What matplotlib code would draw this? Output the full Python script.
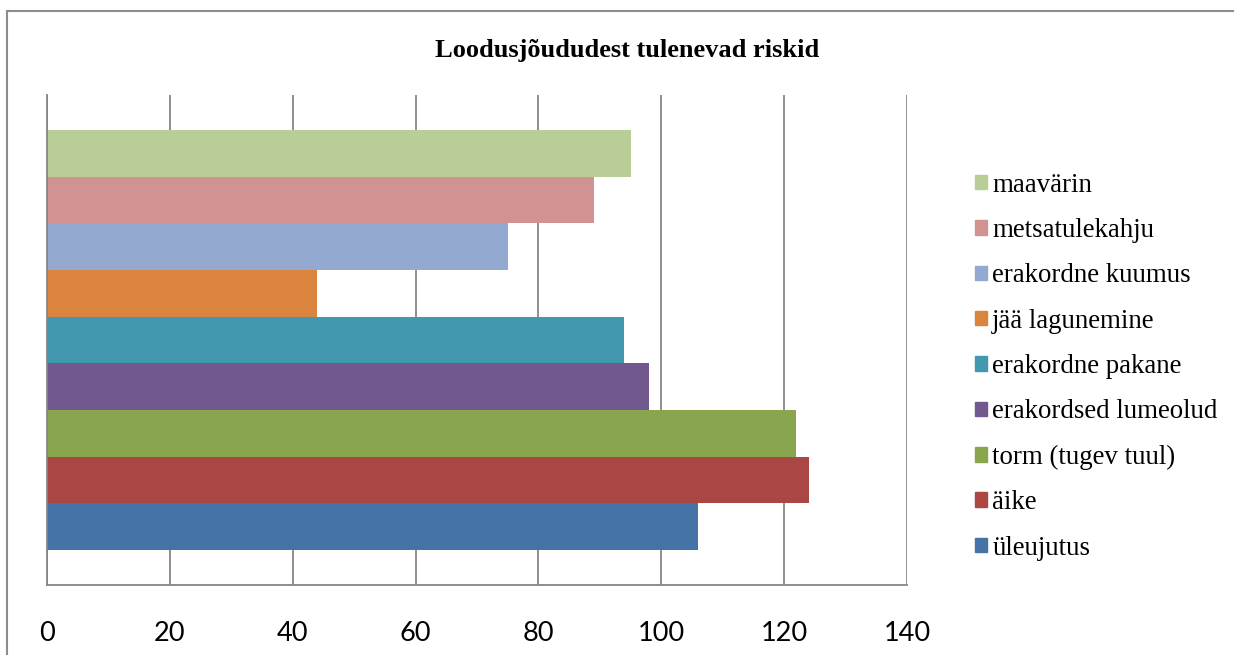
import numpy as np
import matplotlib
matplotlib.use("Agg")
import matplotlib.pyplot as plt
from matplotlib.patches import Rectangle, Patch

# series in drawing order (bottom to top)
risks = ["üleujutus", "äike", "torm (tugev tuul)", "erakordsed lumeolud",
         "erakordne pakane", "jää lagunemine", "erakordne kuumus",
         "metsatulekahju", "maavärin"]
values = [106, 124, 122, 98, 94, 44, 75, 89, 95]
colors = ["#4572A7", "#AA4643", "#89A54E", "#71588F", "#4198AF",
          "#DB843D", "#93A9CF", "#D19392", "#B9CD96"]
xticks = [0, 20, 40, 60, 80, 100, 120, 140]
title = "Loodusjõududest tulenevad riskid"

fig = plt.figure(figsize=(12.34, 6.55), dpi=100)
ax = fig.add_axes([47/1234, 70/655, 860/1234, 490/655])

group = 0.857
h = group / len(risks)
ypos = -group/2 + h*(np.arange(len(risks)) + 0.5)
for y, v, c, name in zip(ypos, values, colors, risks):
    ax.barh(y, v, height=h, color=c, label=name, zorder=2)

ax.set_xlim(0, 140)
ax.set_ylim(-0.5, 0.5)
ax.set_xticks(xticks)
ax.set_yticks([])
ax.grid(axis='x', color='#868686', lw=1.3, zorder=1)
for s in ['top', 'right']:
    ax.spines[s].set_visible(False)
for s in ['left', 'bottom']:
    ax.spines[s].set_color('#868686')
    ax.spines[s].set_linewidth(1.3)
ax.tick_params(axis='x', length=0, pad=26, labelsize=19.5)
for lab in ax.get_xticklabels():
    lab.set_fontfamily('Lato')

fig.text(627/1234, 1 - 51/655, title, ha='center', va='center',
         fontfamily='Liberation Serif', fontweight='bold', fontsize=19)

handles = [Patch(color=c) for c in colors][::-1]
fig.legend(handles, risks[::-1], loc='upper left',
           bbox_to_anchor=(964/1234, 1 - 162/655), frameon=False,
           prop={'family': 'Liberation Serif', 'size': 19.4},
           handlelength=0.45, handleheight=0.45, handletextpad=0.2,
           labelspacing=0.755, borderaxespad=0)

# outer chart frame (cut at right and bottom)
fig.patches.append(Rectangle((7/1234, -0.1), 1.2, 1.1 - 11/655,
                             transform=fig.transFigure, fill=False,
                             edgecolor='#8c8c8c', lw=1.5))

fig.savefig("out.png", dpi=100)
